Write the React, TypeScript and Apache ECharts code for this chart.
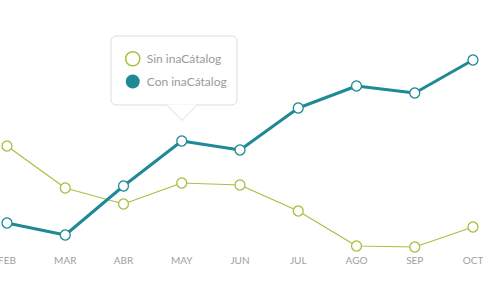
import React, { useEffect, useRef } from "react";
import * as echarts from "echarts";

const categories = ["FEB", "MAR", "ABR", "MAY", "JUN", "JUL", "AGO", "SEP", "OCT"];
const sinValues = [54, 33, 25, 35.5, 34.5, 21.5, 4, 3.5, 13.5];
const conValues = [15.5, 9.5, 34, 56.5, 52, 73, 84, 80.5, 97];
const seriesNames = ["Sin inaCátalog", "Con inaCátalog"];

const GREEN = "#a8c040";
const TEAL = "#1f8a96";

export default function App() {
  const ref = useRef<HTMLDivElement>(null);
  useEffect(() => {
    if (!ref.current) return;
    const chart = echarts.init(ref.current, null, { renderer: "svg" });
    chart.setOption({
      animation: false,
      grid: { left: 7, right: 10, top: 54, bottom: 46, containLabel: false, outerBoundsMode: "none" },
      xAxis: {
        type: "category",
        data: categories,
        boundaryGap: false,
        axisLine: { show: false },
        axisTick: { show: false },
        axisLabel: { color: "#a0a0a0", fontFamily: "Lato", fontSize: 10, margin: 1 },
        splitLine: { show: false },
      },
      yAxis: { type: "value", min: 0, max: 100, show: false },
      legend: {
        orient: "vertical",
        left: 120,
        top: 46,
        itemGap: 8,
        itemWidth: 14,
        itemHeight: 14,
        textStyle: { color: "#9a9a9a", fontFamily: "Lato", fontSize: 12, padding: [0, 0, 0, 2] },
        data: [
          { name: seriesNames[0], icon: "circle", itemStyle: { color: "#fff", borderColor: GREEN, borderWidth: 1.5 } },
          { name: seriesNames[1], icon: "circle", itemStyle: { color: TEAL, borderWidth: 0 } },
        ],
      },
      graphic: [
        {
          type: "rect",
          z: -1,
          shape: { x: 111, y: 36, width: 126, height: 69, r: 5 },
          style: { fill: "#fff", stroke: "#dddddd", lineWidth: 1 },
        },
        {
          type: "polygon",
          z: -1,
          shape: { points: [[167, 104.5], [182, 120], [197, 104.5]] },
          style: { fill: "#fff", stroke: "none" },
        },
        {
          type: "polyline",
          z: -1,
          shape: { points: [[167, 105], [182, 120.5], [197, 105]] },
          style: { fill: "none", stroke: "#dddddd", lineWidth: 1 },
        },
      ],
      series: [
        {
          name: seriesNames[0],
          type: "line",
          data: sinValues,
          symbol: "circle",
          symbolSize: 10,
          lineStyle: { color: GREEN, width: 1.2 },
          itemStyle: { color: "#fff", borderColor: GREEN, borderWidth: 1.3 },
          z: 2,
        },
        {
          name: seriesNames[1],
          type: "line",
          data: conValues,
          symbol: "circle",
          symbolSize: 10,
          lineStyle: { color: TEAL, width: 3 },
          itemStyle: { color: "#fff", borderColor: TEAL, borderWidth: 1.3 },
          z: 3,
        },
      ],
    });
    return () => chart.dispose();
  }, []);
  return (
    <div
      ref={ref}
      style={{ position: "fixed", left: 0, top: 0, width: 483, height: 300, background: "#fff" }}
    />
  );
}
